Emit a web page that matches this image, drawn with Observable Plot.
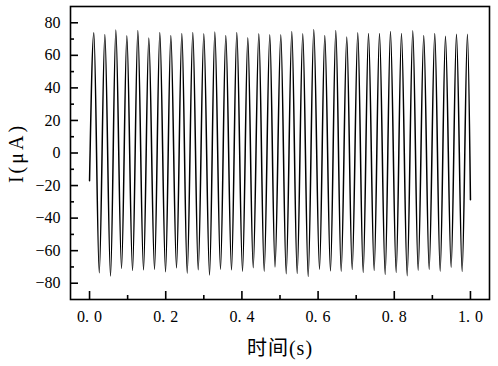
<!DOCTYPE html>
<html>
<head>
<meta charset="utf-8">
<script src="https://cdn.jsdelivr.net/npm/d3@7"></script>
<script src="https://cdn.jsdelivr.net/npm/@observablehq/plot@0.6"></script>
<style>
  html, body { margin: 0; padding: 0; background: white; }
  #chart { width: 498px; height: 366px; }
</style>
</head>
<body>
<div id="chart"></div>
<script>
const times = [
  0.0000, 0.0113, 0.0255, 0.0402, 0.0551, 0.0690, 0.0840, 0.0979, 0.1129, 0.1268,
  0.1417, 0.1556, 0.1706, 0.1845, 0.1995, 0.2134, 0.2283, 0.2423, 0.2564, 0.2711,
  0.2853, 0.3000, 0.3150, 0.3289, 0.3438, 0.3577, 0.3727, 0.3866, 0.4016, 0.4155,
  0.4297, 0.4444, 0.4585, 0.4732, 0.4869, 0.5021, 0.5163, 0.5310, 0.5451, 0.5598,
  0.5740, 0.5887, 0.6037, 0.6176, 0.6325, 0.6465, 0.6606, 0.6753, 0.6895, 0.7042,
  0.7184, 0.7323, 0.7472, 0.7612, 0.7761, 0.7900, 0.8050, 0.8189, 0.8339, 0.8486,
  0.8627, 0.8774, 0.8916, 0.9063, 0.9205, 0.9344, 0.9493, 0.9633, 0.9782, 0.9921,
  1.0000
];
// Current (μA) at those times
const currents = [
  -17.0, 73.8, -73.6, 72.8, -75.6, 75.5, -70.9, 72.0, -72.2, 75.3,
  -71.8, 70.6, -71.4, 74.1, -73.0, 72.2, -70.5, 73.4, -73.8, 74.1,
  -71.8, 73.2, -74.9, 74.4, -71.4, 72.2, -71.8, 74.1, -72.6, 70.8,
  -70.5, 73.2, -72.6, 72.6, -70.0, 72.6, -74.2, 74.7, -74.0, 73.2,
  -75.9, 75.9, -71.4, 72.2, -72.4, 75.3, -72.6, 71.2, -71.6, 73.8,
  -73.4, 73.4, -72.2, 73.4, -74.6, 74.7, -73.4, 73.4, -75.4, 75.1,
  -72.0, 72.2, -71.4, 73.4, -72.6, 71.8, -70.2, 73.0, -72.8, 73.0,
  -28.7
];
const xMajor = [0, 0.2, 0.4, 0.6, 0.8, 1.0];
const xMinor = [0.1, 0.3, 0.5, 0.7, 0.9];
const yMajor = [-80, -60, -40, -20, 0, 20, 40, 60, 80];
const yMinor = [-70, -50, -30, -10, 10, 30, 50, 70];
const xLabel = "时间(s)";
const yLabel = "I(μA)";

const W = 498, H = 366;
const mL = 70, mR = 9, mT = 6, mB = 67;
const pw = W - mL - mR, ph = H - mT - mB;

const plot = Plot.plot({
  width: W, height: H,
  marginLeft: mL, marginRight: mR, marginTop: mT, marginBottom: mB,
  x: {domain: [-0.05, 1.05], label: null},
  y: {domain: [-90, 90], label: null},
  style: {fontFamily: "'Liberation Serif', 'Noto Sans CJK SC', serif", background: "white", color: "black"},
  marks: [
    Plot.line(currents, {x: times, y: currents, curve: "monotone-x", stroke: "black", strokeWidth: 1.5}),
    Plot.frame({stroke: "black", strokeWidth: 1.6}),
    Plot.tickX(xMajor, {x: d => d, insetTop: ph - 8, stroke: "black", strokeWidth: 1.6}),
    Plot.tickX(xMinor, {x: d => d, insetTop: ph - 4, stroke: "black", strokeWidth: 1.6}),
    Plot.tickY(yMajor, {y: d => d, insetRight: pw - 8, stroke: "black", strokeWidth: 1.6}),
    Plot.tickY(yMinor, {y: d => d, insetRight: pw - 4, stroke: "black", strokeWidth: 1.6}),
    Plot.axisX(xMajor, {tickSize: 0, tickPadding: 11, tickFormat: d3.format(".1f"), fontSize: 16, label: null, fill: "black"}),
    Plot.axisY(yMajor, {tickSize: 0, tickPadding: 10, fontSize: 16, label: null, fill: "black"}),
    Plot.text([xLabel], {frameAnchor: "bottom", dy: 55, text: d => d, fontSize: 20, fill: "black", textAnchor: "middle"}),
    Plot.text([yLabel], {frameAnchor: "left", dx: -54, rotate: -90, text: d => d, fontSize: 20, fill: "black", textAnchor: "middle"})
  ]
});
document.getElementById("chart").appendChild(plot);

// spacing adjustments to mimic the wide glyphs of the original font
d3.select(plot).selectAll("text").each(function() {
  const t = this.textContent;
  if (t === yLabel) this.setAttribute("letter-spacing", "3px");
  else if (t === xLabel) this.setAttribute("letter-spacing", "1px");
  else if (/^\d\.\d$/.test(t)) {
    // widen the gap after the decimal point, as in the original font
    this.textContent = t.slice(0, 2);
    const ts = document.createElementNS("http://www.w3.org/2000/svg", "tspan");
    ts.setAttribute("dx", "5");
    ts.textContent = t.slice(2);
    this.appendChild(ts);
  }
});
</script>
</body>
</html>
